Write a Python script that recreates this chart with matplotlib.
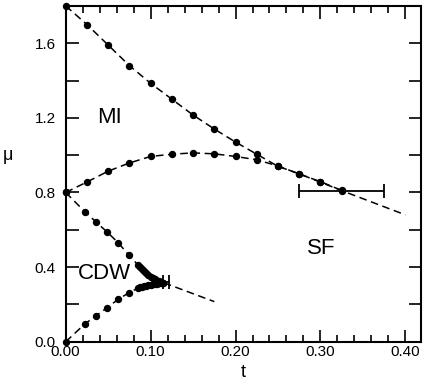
import numpy as np
import matplotlib.pyplot as plt
from matplotlib.ticker import MultipleLocator

plt.rcParams['font.family'] = ['Liberation Sans', 'DejaVu Sans']

# upper Mott-insulator boundary (mu_+)
t_mi_up = [0.0, 0.025, 0.05, 0.075, 0.10, 0.125, 0.15, 0.175, 0.20, 0.225, 0.25, 0.275, 0.30, 0.325]
mu_mi_up = [1.80, 1.70, 1.59, 1.48, 1.385, 1.30, 1.215, 1.14, 1.07, 1.005, 0.94, 0.90, 0.855, 0.81]
t_mi_up_line = [0.40]
mu_mi_up_line = [0.68]

# lower Mott-insulator boundary (mu_-)
t_mi_lo = [0.0, 0.025, 0.05, 0.075, 0.10, 0.125, 0.15, 0.175, 0.20, 0.225, 0.25, 0.275, 0.30, 0.325]
mu_mi_lo = [0.80, 0.856, 0.914, 0.958, 0.993, 1.005, 1.012, 1.007, 0.993, 0.975, 0.942, 0.899, 0.858, 0.811]

# upper CDW boundary
t_cdw_up = [0.0, 0.0225, 0.036, 0.049, 0.062, 0.074, 0.085, 0.0875, 0.09, 0.0925, 0.095,
            0.0975, 0.10, 0.1025, 0.105, 0.1075, 0.11, 0.1125, 0.115]
mu_cdw_up = [0.80, 0.697, 0.641, 0.587, 0.530, 0.466, 0.412, 0.400, 0.388, 0.377, 0.366,
             0.356, 0.348, 0.340, 0.334, 0.328, 0.323, 0.320, 0.317]
t_cdw_up_line = [0.175]
mu_cdw_up_line = [0.215]

# lower CDW boundary
t_cdw_lo = [0.0, 0.0225, 0.036, 0.049, 0.062, 0.074, 0.085, 0.0875, 0.09, 0.0925, 0.095,
            0.0975, 0.10, 0.1025, 0.105, 0.1075, 0.11, 0.1125, 0.115]
mu_cdw_lo = [0.0, 0.095, 0.140, 0.183, 0.228, 0.261, 0.287, 0.291, 0.295, 0.298, 0.301,
             0.303, 0.305, 0.307, 0.309, 0.311, 0.313, 0.315, 0.317]

# error bars (tip positions)
err_t = [0.325, 0.118]
err_mu = [0.81, 0.318]
err_dt = [0.05, 0.0035]

fig = plt.figure(figsize=(4.31, 3.91), dpi=100)
ax = fig.add_axes([0.1524, 0.126, 0.8236, 0.859])

dash = (5, 3)
ax.plot(t_mi_up + t_mi_up_line, mu_mi_up + mu_mi_up_line, color='k', lw=1.1, dashes=dash)
ax.plot(t_mi_lo, mu_mi_lo, color='k', lw=1.1, dashes=dash)
ax.plot(t_cdw_up + t_cdw_up_line, mu_cdw_up + mu_cdw_up_line, color='k', lw=1.1, dashes=dash)
ax.plot(t_cdw_lo, mu_cdw_lo, color='k', lw=1.1, dashes=dash)

for t, mu in [(t_mi_up, mu_mi_up), (t_mi_lo, mu_mi_lo), (t_cdw_up, mu_cdw_up), (t_cdw_lo, mu_cdw_lo)]:
    ax.plot(t, mu, 'o', color='k', ms=4.3, clip_on=False, zorder=5)

ax.errorbar(err_t, err_mu, xerr=err_dt, fmt='none', ecolor='k', elinewidth=1.3,
            capsize=5, capthick=1.3, zorder=6)

ax.text(0.052, 1.2, 'MI', fontsize=16, ha='center', va='center')
ax.text(0.301, 0.50, 'SF', fontsize=16, ha='center', va='center')
ax.text(0.046, 0.368, 'CDW', fontsize=16, ha='center', va='center')

ax.set_xlim(0, 0.418)
ax.set_ylim(0, 1.8)
ax.xaxis.set_major_locator(MultipleLocator(0.1))
ax.xaxis.set_minor_locator(MultipleLocator(0.02))
ax.yaxis.set_major_locator(MultipleLocator(0.4))
ax.yaxis.set_minor_locator(MultipleLocator(0.2))
ax.xaxis.set_major_formatter(plt.FuncFormatter(lambda v, p: '%.2f' % v))
ax.yaxis.set_major_formatter(plt.FuncFormatter(lambda v, p: '%.1f' % v))
ax.tick_params(which='both', direction='in', top=True, right=True, width=1.2, labelsize=11)
ax.tick_params(axis='x', which='major', length=9, pad=2.5)
ax.tick_params(axis='x', which='minor', length=5)
ax.tick_params(axis='y', which='both', length=9, pad=7)
for s in ax.spines.values():
    s.set_linewidth(1.5)

ax.set_xlabel('t', fontsize=13)
ax.xaxis.set_label_coords(0.50, -0.067)
ax.set_ylabel('μ', fontsize=13, rotation=0, va='center', ha='center')
ax.yaxis.set_label_coords(-0.162, 0.555)

fig.savefig('out.png', dpi=100)
